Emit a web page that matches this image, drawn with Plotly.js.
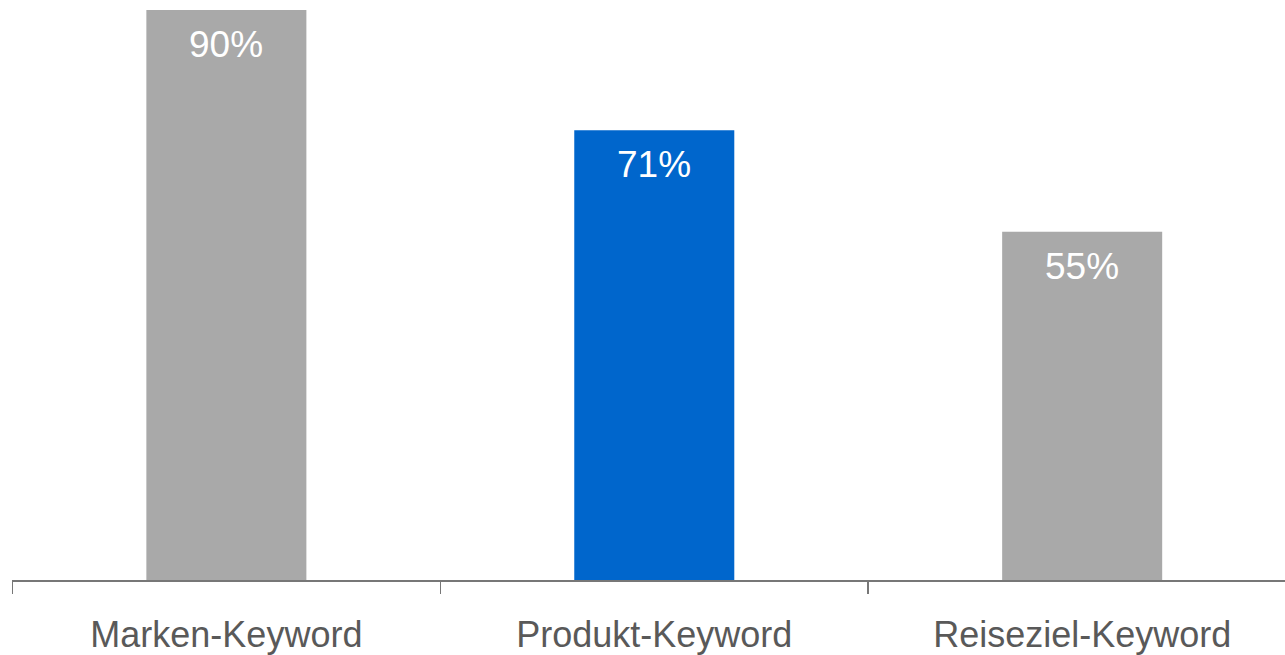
<!DOCTYPE html>
<html>
<head>
<meta charset="utf-8">
<script src="https://cdn.plot.ly/plotly-3.0.1.min.js"></script>
<style>html,body{margin:0;padding:0;background:#fff;}#chart{width:1285px;height:655px;}</style>
</head>
<body>
<div id="chart"></div>
<script>
const categories = ["Marken-Keyword", "Produkt-Keyword", "Reiseziel-Keyword"];
const values = [90, 71, 55];
const labels = ["90%", "71%", "55%"];
const barColors = ["#A9A9A9", "#0066CC", "#A9A9A9"];

const trace = {
  type: "bar",
  x: categories,
  y: values,
  marker: {color: barColors},
  hoverinfo: "none"
};

const annotations = categories.map((c, i) => ({
  x: c, y: values[i], xref: "x", yref: "y",
  text: labels[i], showarrow: false,
  yanchor: "top", yshift: -12,
  font: {family: "Liberation Sans, Arial, sans-serif", size: 37, color: "#FFFFFF"}
}));

const layout = {
  width: 1285, height: 655,
  margin: {l: 12, r: 0, t: 10, b: 75},
  paper_bgcolor: "#FFFFFF", plot_bgcolor: "#FFFFFF",
  showlegend: false,
  bargap: 0.626,
  xaxis: {
    type: "category",
    range: [-0.501, 2.474],
    tickson: "boundaries",
    ticks: "outside", ticklen: 12, tickwidth: 1.5, tickcolor: "#777777",
    showline: true, linecolor: "#777777", linewidth: 1.5,
    showgrid: false, zeroline: false,
    tickfont: {family: "Liberation Sans, Arial, sans-serif", size: 36, color: "#595959"},
    ticklabelstandoff: 22
  },
  yaxis: {
    range: [0, 90], visible: false, showgrid: false, zeroline: false
  },
  annotations: annotations
};

Plotly.newPlot("chart", [trace], layout, {displayModeBar: false, staticPlot: true});
</script>
</body>
</html>
